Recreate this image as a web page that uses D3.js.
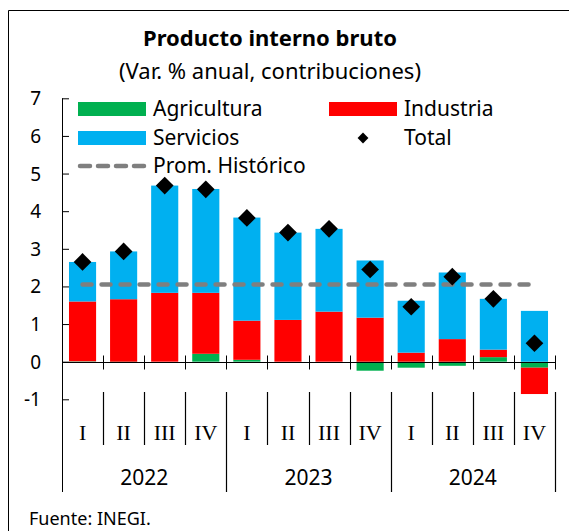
<!DOCTYPE html>
<html lang="es">
<head><meta charset="utf-8">
<title>Producto interno bruto</title>
<style>
body { margin: 0; background: #fff; font-family: "Noto Sans", sans-serif; }
svg text { fill: #000; }
</style>
</head>
<body>
<svg id="chart"></svg>
<script src="https://d3js.org/d3.v7.min.js"></script>
<script>

var quarters = ["I", "II", "III", "IV", "I", "II", "III", "IV", "I", "II", "III", "IV"];
var years = ["2022", "2023", "2024"];
var agricultura = [0.01, -0.02, 0.0, 0.21, 0.05, 0.0, 0.0, -0.24, -0.16, -0.11, 0.12, -0.16];
var industria = [1.59, 1.66, 1.83, 1.62, 1.04, 1.11, 1.33, 1.17, 0.24, 0.60, 0.20, -0.70];
var servicios = [1.05, 1.27, 2.85, 2.76, 2.74, 2.32, 2.20, 1.52, 1.38, 1.77, 1.35, 1.35];
var total = [2.65, 2.93, 4.68, 4.58, 3.82, 3.43, 3.53, 2.45, 1.46, 2.26, 1.67, 0.49];
var promHistorico = 2.05;
var yTicks = [-1, 0, 1, 2, 3, 4, 5, 6, 7];

var width = 569, height = 531;
var colors = {agri: "#00b050", ind: "#ff0000", serv: "#00b0f0", prom: "#7f7f7f"};

var svg = d3.select("#chart").attr("width", width).attr("height", height);

// outer frame
svg.append("path")
    .attr("d", "M8.5," + height + "V10.5H" + width)
    .attr("fill", "none").attr("stroke", "#000").attr("stroke-width", 1);

svg.append("text").attr("x", 270).attr("y", 46).attr("text-anchor", "middle")
    .style("font-size", "22px").style("font-weight", "bold").text("Producto interno bruto");
svg.append("text").attr("x", 270).attr("y", 79).attr("text-anchor", "middle")
    .style("font-size", "22px").text("(Var. % anual, contribuciones)");

var idx = d3.range(quarters.length);
var x = d3.scaleBand().domain(idx).range([62, 555]);
var y = d3.scaleLinear().domain([-1, 7]).range([399.3, 98.3]);
var barW = x.bandwidth() * 0.66;

// stacked bars (positives up, negatives down)
var rows = idx.map(function(i) {
  return [
    {k: "agri", v: agricultura[i]},
    {k: "ind", v: industria[i]},
    {k: "serv", v: servicios[i]}
  ];
});
var segs = [];
rows.forEach(function(r, i) {
  var pos = 0, neg = 0;
  r.forEach(function(s) {
    if (s.v >= 0) { segs.push({i: i, k: s.k, y0: pos, y1: pos + s.v}); pos += s.v; }
    else { segs.push({i: i, k: s.k, y0: neg, y1: neg + s.v}); neg += s.v; }
  });
});

svg.append("g").selectAll("rect").data(segs).join("rect")
    .attr("x", function(d) { return x(d.i) + (x.bandwidth() - barW) / 2; })
    .attr("width", barW)
    .attr("y", function(d) { return y(Math.max(d.y0, d.y1)); })
    .attr("height", function(d) { return Math.abs(y(d.y0) - y(d.y1)); })
    .attr("fill", function(d) { return colors[d.k]; });

// historical average
svg.append("line")
    .attr("x1", x(0) + x.bandwidth() / 2).attr("x2", x(11) + x.bandwidth() / 2)
    .attr("y1", y(promHistorico)).attr("y2", y(promHistorico))
    .attr("stroke", colors.prom).attr("stroke-width", 4.5)
    .attr("stroke-dasharray", "9,10").attr("stroke-linecap", "round");

// total markers
var diamond = d3.symbol().type(d3.symbolDiamond2).size(200);
svg.append("g").selectAll("path").data(idx).join("path")
    .attr("d", diamond)
    .attr("transform", function(i) { return "translate(" + (x(i) + x.bandwidth() / 2) + "," + y(total[i]) + ")"; })
    .attr("fill", "#000");

// y axis
var yAxis = svg.append("g").attr("transform", "translate(62,0)")
    .call(d3.axisRight(y).tickValues(yTicks).tickSize(7).tickFormat(""));
yAxis.select(".domain").remove();
yAxis.selectAll("line").attr("stroke", "#000");
svg.append("line").attr("x1", 62.5).attr("x2", 62.5).attr("y1", y(7)).attr("y2", 492)
    .attr("stroke", "#000");
svg.append("g").selectAll("text").data(yTicks).join("text")
    .attr("x", 41).attr("y", function(d) { return y(d) + 7; })
    .attr("text-anchor", "end").style("font-size", "19px")
    .text(function(d) { return d; });

// x axis at zero with crossing ticks
var y0 = Math.round(y(0)) + 0.5;
svg.append("line").attr("x1", 62).attr("x2", 555).attr("y1", y0).attr("y2", y0)
    .attr("stroke", "#000");
var bounds = d3.range(quarters.length + 1).map(function(i) { return i < quarters.length ? x(i) : x(i - 1) + x.bandwidth(); });
svg.append("g").selectAll("line").data(bounds.slice(1)).join("line")
    .attr("x1", function(d) { return Math.round(d) + 0.5; })
    .attr("x2", function(d) { return Math.round(d) + 0.5; })
    .attr("y1", y0 - 7).attr("y2", y0 + 7).attr("stroke", "#000");

// category separators
svg.append("g").selectAll("line").data(bounds.slice(1)).join("line")
    .attr("x1", function(d) { return Math.round(d) + 0.5; })
    .attr("x2", function(d) { return Math.round(d) + 0.5; })
    .attr("y1", 392)
    .attr("y2", function(d, i) { return (i + 1) % 4 === 0 ? 492 : 445; })
    .attr("stroke", "#000").attr("stroke-width", 1.2);

svg.append("g").selectAll("text").data(idx).join("text")
    .attr("x", function(i) { return x(i) + x.bandwidth() / 2; })
    .attr("y", 440).attr("text-anchor", "middle")
    .style("font-family", "'Liberation Serif', serif").style("font-size", "22px")
    .text(function(i) { return quarters[i]; });

svg.append("g").selectAll("text").data(years).join("text")
    .attr("x", function(d, j) { return (x(j * 4) + x(j * 4 + 3) + x.bandwidth()) / 2; })
    .attr("y", 485).attr("text-anchor", "middle").style("font-size", "21px")
    .text(function(d) { return d; });

svg.append("text").attr("x", 29).attr("y", 525).style("font-size", "18px").text("Fuente: INEGI.");

// legend
var lg = svg.append("g").style("font-size", "21px");
var legendItems = [
  {label: "Agricultura", type: "rect", c: colors.agri, x: 78, y: 109},
  {label: "Industria", type: "rect", c: colors.ind, x: 329, y: 109},
  {label: "Servicios", type: "rect", c: colors.serv, x: 78, y: 138},
  {label: "Total", type: "dot", c: "#000", x: 329, y: 138},
  {label: "Prom. Histórico", type: "dash", c: colors.prom, x: 78, y: 166}
];
legendItems.forEach(function(d) {
  if (d.type === "rect") {
    lg.append("rect").attr("x", d.x).attr("y", d.y - 7).attr("width", 68).attr("height", 14).attr("fill", d.c);
  } else if (d.type === "dot") {
    lg.append("path").attr("d", d3.symbol().type(d3.symbolDiamond2).size(75))
      .attr("transform", "translate(" + (d.x + 34) + "," + d.y + ")").attr("fill", d.c);
  } else {
    lg.append("line").attr("x1", d.x + 2).attr("x2", d.x + 68).attr("y1", d.y).attr("y2", d.y)
      .attr("stroke", d.c).attr("stroke-width", 4.5).attr("stroke-dasharray", "10,8").attr("stroke-linecap", "round");
  }
  lg.append("text").attr("x", d.x + 75).attr("y", d.y + 7).text(d.label);
});

</script>
</body>
</html>
